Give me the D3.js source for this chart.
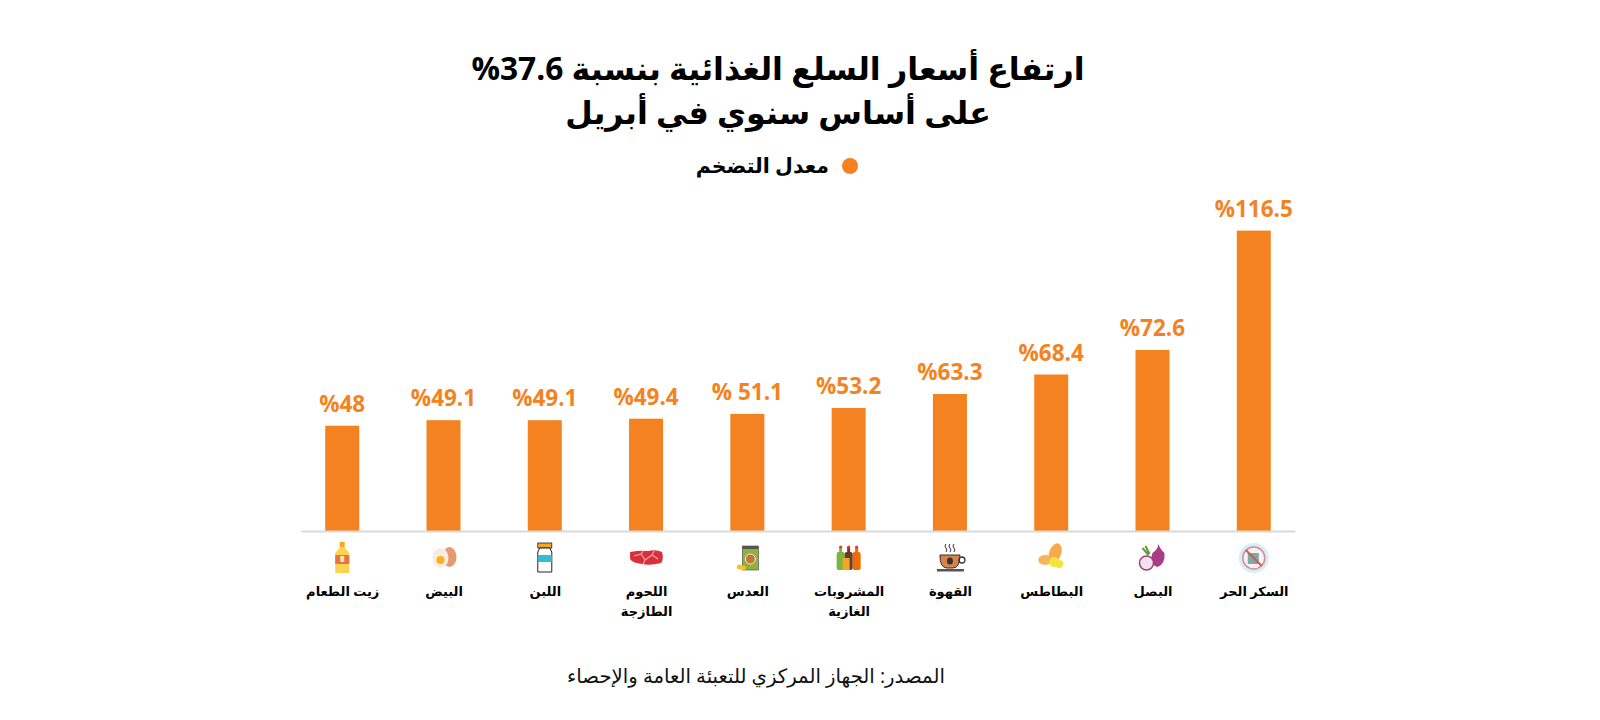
<!DOCTYPE html>
<html lang="ar">
<head>
<meta charset="utf-8">
<script src="https://cdn.jsdelivr.net/npm/d3@7"></script>
<style>
	html, body { margin: 0; background: #fff; }
	text { font-family: "Open Sans", "DejaVu Sans", sans-serif; }
</style>
</head>
<body>
<script>
const width = 1600;
const height = 720;
const orange = "#f58220";

// left to right, as in the picture
const categories = ["زيت الطعام", "البيض", "اللبن", "اللحوم الطازجة", "العدس", "المشروبات الغازية", "القهوة", "البطاطس", "البصل", "السكر الحر"];
const values = [48, 49.1, 49.1, 49.4, 51.1, 53.2, 63.3, 68.4, 72.6, 116.5];
const valueLabels = ["%48", "%49.1", "%49.1", "%49.4", "% 51.1", "%53.2", "%63.3", "%68.4", "%72.6", "%116.5"];
const wrappedLabels = { "اللحوم الطازجة": ["اللحوم", "الطازجة"], "المشروبات الغازية": ["المشروبات", "الغازية"] };
const titleLines = ["ارتفاع أسعار السلع الغذائية بنسبة 37.6%", "على أساس سنوي في أبريل"];
const legendLabel = "معدل التضخم";
const source = "المصدر: الجهاز المركزي للتعبئة العامة والإحصاء";

const svg = d3.select("body").append("svg")
	.attr("width", width)
	.attr("height", height)
	.style("display", "block");

const baseline = 531;

const x = d3.scalePoint()
	.domain(categories)
	.range([301, 1295])
	.padding(0.407);

// the original bars are not drawn to a plain linear scale, hence the knots
const y = d3.scaleLinear()
	.domain([48, 49.4, 53.2, 63.3, 68.4, 72.6, 116.5])
	.range([425.7, 418.7, 408, 394, 374.5, 350, 230.6]);

// title
svg.append("g").selectAll("text")
	.data(titleLines)
	.enter()
	.append("text")
	.attr("x", 778)
	.attr("y", function (d, i) { return 80 + i * 44; })
	.attr("text-anchor", "middle")
	.attr("direction", "rtl")
	.attr("font-size", 31.7)
	.attr("font-weight", 700)
	.attr("fill", "#000")
	.text(function (d) { return d; });

// legend
svg.append("circle")
	.attr("cx", 850)
	.attr("cy", 166)
	.attr("r", 8)
	.attr("fill", orange);
svg.append("text")
	.attr("x", 829)
	.attr("y", 173)
	.attr("text-anchor", "start")
	.attr("direction", "rtl")
	.attr("font-size", 20.5)
	.attr("font-weight", 700)
	.text(legendLabel);

// bars
svg.append("g").selectAll("rect")
	.data(values)
	.enter()
	.append("rect")
	.attr("x", function (d, i) { return x(categories[i]) - 17; })
	.attr("y", function (d) { return y(d); })
	.attr("width", 34)
	.attr("height", function (d) { return baseline - y(d); })
	.attr("fill", orange);

svg.append("g").selectAll("text")
	.data(values)
	.enter()
	.append("text")
	.attr("x", function (d, i) { return x(categories[i]); })
	.attr("y", function (d) { return y(d) - 14; })
	.attr("text-anchor", "middle")
	.attr("direction", "ltr")
	.attr("font-size", 22.5)
	.attr("font-weight", 700)
	.attr("fill", orange)
	.text(function (d, i) { return valueLabels[i]; });

// axis
const axis = svg.append("g")
	.attr("transform", "translate(0," + baseline + ")")
	.call(d3.axisBottom(x).tickSize(0).tickPadding(0));

axis.select(".domain")
	.attr("stroke", "#d9d9d9")
	.attr("stroke-width", 2);

axis.selectAll(".tick text").each(function (d) {
	const lines = wrappedLabels[d] || [d];
	const label = d3.select(this)
		.text(null)
		.attr("direction", "rtl")
		.attr("text-anchor", "middle")
		.attr("font-size", 13)
		.attr("font-weight", 700)
		.attr("fill", "#000")
		.attr("font-family", "DejaVu Sans")
		.attr("y", 0)
		.attr("dy", 0);
	lines.forEach(function (line, i) {
		label.append("tspan")
			.attr("x", 0)
			.attr("y", 65 + i * 20)
			.text(line);
	});
});

// small pictograms under the axis, one per category
function add(g, tag, attrs) {
	const el = g.append(tag);
	Object.keys(attrs).forEach(function (k) { el.attr(k, attrs[k]); });
	return el;
}

const icons = [
	function (g) { // oil
		add(g, "rect", { x: -2.5, y: -16, width: 5, height: 5, fill: "#f5a623" });
		add(g, "path", { d: "M-2,-11 L2,-11 L7,-5 L7,14 Q7,15 6,15 L-6,15 Q-7,15 -7,14 L-7,-5 Z", fill: "#ffd34e" });
		add(g, "rect", { x: -7, y: -3, width: 14, height: 9, fill: "#ef6f45" });
		add(g, "rect", { x: -2, y: -2, width: 4, height: 6, fill: "#ffe9a8" });
	},
	function (g) { // eggs
		add(g, "ellipse", { cx: 6, cy: -1, rx: 7, ry: 10, fill: "#e59a72" });
		add(g, "ellipse", { cx: -3, cy: 0, rx: 8, ry: 10, fill: "#f7ece2" });
		add(g, "circle", { cx: -3, cy: 2, r: 4, fill: "#fbb117" });
	},
	function (g) { // milk jar
		add(g, "rect", { x: -7, y: -15, width: 14, height: 5, fill: "#f5a623", stroke: "#222", "stroke-width": 0.8 });
		add(g, "path", { d: "M-5,-10 L5,-10 L7,-6 L7,14 L-7,14 L-7,-6 Z", fill: "#fff", stroke: "#222", "stroke-width": 1 });
		add(g, "rect", { x: -7, y: -3, width: 14, height: 7, fill: "#35bcd1" });
	},
	function (g) { // meat
		add(g, "path", { d: "M-16,-6 Q-6,-8 2,-7 Q10,-9 16,-6 Q18,1 15,5 Q4,8 -4,6 Q-14,5 -16,1 Z", fill: "#d9303f" });
		add(g, "path", { d: "M-12,-2 L-5,-4 L-1,2 L6,-3 L12,1 M-5,-4 L-3,-7 M-1,2 L-3,6 M6,-3 L8,-7", fill: "none", stroke: "#f6a6a0", "stroke-width": 1.2 });
	},
	function (g) { // lentils
		add(g, "rect", { x: -5, y: -12, width: 16, height: 24, fill: "#8db33a", stroke: "#555", "stroke-width": 0.7 });
		add(g, "rect", { x: -5, y: -12, width: 16, height: 3, fill: "#555" });
		add(g, "circle", { cx: 3, cy: 1, r: 5, fill: "#c7743a", stroke: "#eee", "stroke-width": 1 });
		add(g, "circle", { cx: -8, cy: 9, r: 2.5, fill: "#f7c21c" });
		add(g, "circle", { cx: -4, cy: 10, r: 2.5, fill: "#f7c21c" });
	},
	function (g) { // soft drinks
		[[-8, "#7cb342"], [8, "#ef6c00"], [0, "#6d3b2a"]].forEach(function (b) {
			add(g, "rect", { x: b[0] - 4, y: -6, width: 8, height: 18, rx: 2, fill: b[1] });
			add(g, "rect", { x: b[0] - 1.5, y: -11, width: 3, height: 6, fill: b[1] });
			add(g, "circle", { cx: b[0], cy: -11, r: 1.6, fill: "#e53935" });
		});
		add(g, "rect", { x: -6, y: 0, width: 7, height: 12, fill: "#f5a623" });
	},
	function (g) { // coffee
		add(g, "path", { d: "M-4,-14 q-2,2 0,4 q2,2 0,4 M0,-14 q-2,2 0,4 q2,2 0,4 M4,-14 q-2,2 0,4 q2,2 0,4", fill: "none", stroke: "#333", "stroke-width": 1 });
		add(g, "path", { d: "M-10,-3 L10,-3 Q10,10 3,10 L-3,10 Q-10,10 -10,-3 Z", fill: "#d9824a", stroke: "#333", "stroke-width": 1 });
		add(g, "circle", { cx: 12, cy: 2, r: 3, fill: "none", stroke: "#333", "stroke-width": 1.3 });
		add(g, "ellipse", { cx: 0, cy: 3, rx: 3, ry: 3.5, fill: "#333" });
		add(g, "rect", { x: -13, y: 11, width: 27, height: 2.5, fill: "#555" });
	},
	function (g) { // potatoes
		add(g, "ellipse", { cx: 4, cy: -5, rx: 6, ry: 10, fill: "#f5a94a", transform: "rotate(20 4 -5)" });
		add(g, "ellipse", { cx: -6, cy: 2, rx: 7, ry: 5, fill: "#f8b45a" });
		add(g, "circle", { cx: 3, cy: 4, r: 5, fill: "#f3e63a" });
		add(g, "circle", { cx: 8, cy: 6, r: 4, fill: "#f3e63a" });
	},
	function (g) { // onion
		add(g, "path", { d: "M6,-14 Q8,-8 12,-5 Q13,6 5,9 Q-4,6 0,-5 Q5,-8 6,-14 Z", fill: "#a83c85" });
		add(g, "path", { d: "M-10,-10 L-4,-3 M-7,-12 L-3,-4", stroke: "#5a9e3a", "stroke-width": 2 });
		add(g, "circle", { cx: -6, cy: 5, r: 7, fill: "#f2e3ee", stroke: "#a83c85", "stroke-width": 1.5 });
	},
	function (g) { // sugar, crossed out
		add(g, "circle", { cx: 0, cy: 0, r: 15, fill: "#d5eef7" });
		add(g, "circle", { cx: 0, cy: 0, r: 11, fill: "#f3f3f3", stroke: "#d98a8a", "stroke-width": 1.5 });
		add(g, "rect", { x: -6, y: -5, width: 11, height: 11, fill: "#7fa9a3" });
		add(g, "path", { d: "M-8,-8 L8,8", stroke: "#d9534f", "stroke-width": 1.8 });
	}
];

icons.forEach(function (draw, i) {
	const g = svg.append("g")
		.attr("transform", "translate(" + x(categories[i]) + ",558)");
	draw(g);
});

// source
svg.append("text")
	.attr("x", 756)
	.attr("y", 683)
	.attr("text-anchor", "middle")
	.attr("direction", "rtl")
	.attr("font-size", 19.7)
	.attr("fill", "#111")
	.text(source);
</script>
</body>
</html>
